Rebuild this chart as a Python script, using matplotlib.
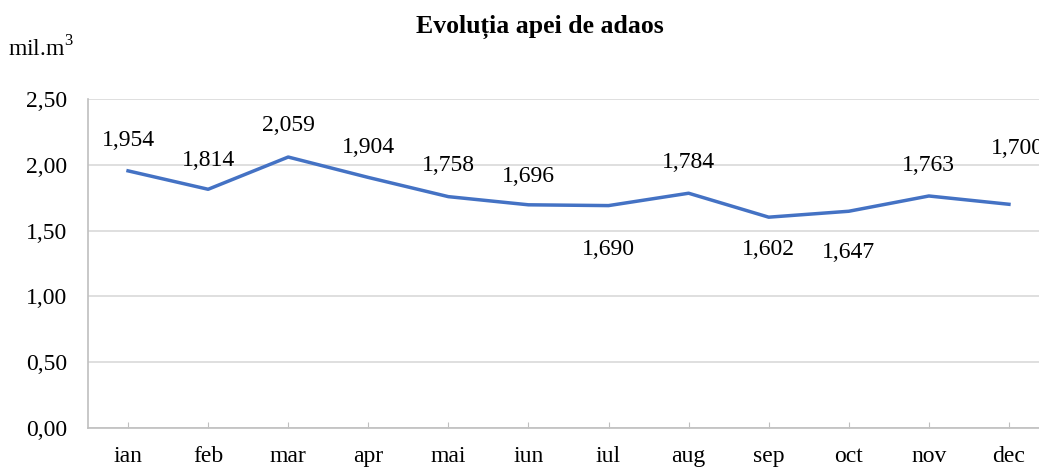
import matplotlib
matplotlib.use("Agg")
import matplotlib.pyplot as plt

months = ['ian', 'feb', 'mar', 'apr', 'mai', 'iun', 'iul', 'aug', 'sep', 'oct', 'nov', 'dec']
values = [1.954, 1.814, 2.059, 1.904, 1.758, 1.696, 1.690, 1.784, 1.602, 1.647, 1.763, 1.700]
# label placement: pixel offset of each data label (dx, dy)
label_offsets = [(0, 30), (0, 29), (0, 32), (0, 30), (0, 31), (0, 28),
                 (0, -44), (0, 31), (0, -32), (0, -41), (0, 30), (8, 56)]
yticks = [0.0, 0.5, 1.0, 1.5, 2.0, 2.5]

plt.rcParams['font.family'] = ['Liberation Serif', 'DejaVu Serif']
plt.rcParams['mathtext.fontset'] = 'custom'
plt.rcParams['mathtext.rm'] = 'Liberation Serif'

fs = 17

fig = plt.figure(figsize=(10.39, 4.68), dpi=100)
ax = fig.add_axes([88 / 1039, 1 - 428 / 468, 961 / 1039, 329 / 468])

x = list(range(len(months)))
ax.plot(x, values, color='#4472C4', linewidth=2.5, solid_joinstyle='round')

for xi, v, (dx, dy) in zip(x, values, label_offsets):
    ax.annotate(f'{v:.3f}'.replace('.', ','), (xi, v), xytext=(dx * 0.72, dy * 0.72),
                textcoords='offset points', ha='center', va='center', fontsize=fs)

ax.set_xlim(-0.5, len(months) - 0.5)
ax.set_ylim(0, 2.5)
ax.set_yticks(yticks)
ax.set_yticklabels([f'{t:.2f}'.replace('.', ',') for t in yticks], fontsize=fs)
ax.set_xticks(x)
ax.set_xticklabels(months, fontsize=fs)
ax.grid(axis='y', color='#D9D9D9', linewidth=1.2)
ax.set_axisbelow(True)

for side in ['top', 'right']:
    ax.spines[side].set_visible(False)
for side in ['left', 'bottom']:
    ax.spines[side].set_color('#BFBFBF')
    ax.spines[side].set_linewidth(1.2)
ax.tick_params(axis='x', direction='in', length=4, color='#BFBFBF', pad=13)
ax.tick_params(axis='y', length=0, pad=15)

fig.text(540 / 1039, 1 - 27 / 468, 'Evoluția apei de adaos', ha='center', va='center',
         fontsize=18.5, fontweight='bold')
fig.text(8 / 1039, 1 - 49 / 468, r'mil.m$^{\mathrm{3}}$', ha='left', va='center', fontsize=fs)

fig.savefig('out.png', dpi=100)
